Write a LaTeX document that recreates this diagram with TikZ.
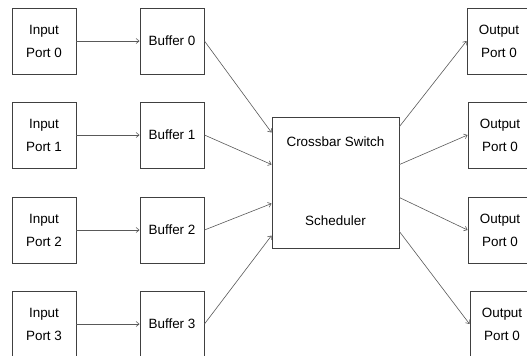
\documentclass[tikz,border=0pt]{standalone}
\usepackage{fontspec}
\setmainfont{Liberation Sans}
\usetikzlibrary{arrows.meta,calc}
\tikzset{
  box/.style={draw=black!75, line width=0.9bp, minimum width=64bp, minimum height=66bp,
              inner sep=0pt, align=center, font=\fontsize{13.5}{23}\selectfont},
  bigbox/.style={draw=black!75, line width=0.9bp, minimum width=127bp, minimum height=131bp, inner sep=0pt},
  lbl/.style={inner sep=0pt, font=\fontsize{13.5}{16}\selectfont},
  link/.style={draw=black!65, line width=0.6bp, -{Straight Barb[length=3bp,width=5bp]}}
}
\begin{document}
\begin{tikzpicture}[x=1bp, y=-1bp]
\useasboundingbox (0,0) rectangle (527,355);
\clip (0,0) rectangle (527,355);
% input ports
\node[box] (in0) at (44,41)  {Input\\Port 0};
\node[box] (in1) at (44,135) {Input\\Port 1};
\node[box] (in2) at (44,230) {Input\\Port 2};
\node[box] (in3) at (44,324) {Input\\Port 3};
% buffers
\node[box] (buf0) at (172,41)  {Buffer 0};
\node[box] (buf1) at (172,135) {Buffer 1};
\node[box] (buf2) at (172,230) {Buffer 2};
\node[box] (buf3) at (172,324) {Buffer 3};
% crossbar switch with scheduler
\node[bigbox] (xbar) at (335.5,182.5) {};
\node[lbl] (xsw) at (335.5,142) {Crossbar Switch};
\node[lbl] (xsch) at (335.5,221) {Scheduler};
% output ports
\node[box] (out0) at (499,41)  {Output\\Port 0};
\node[box] (out1) at (500,135) {Output\\Port 0};
\node[box] (out2) at (500,230) {Output\\Port 0};
\node[box] (out3) at (502,324) {Output\\Port 0};
% inputs to buffers
\foreach \i in {0,1,2,3} \draw[link] (in\i.east) -- (buf\i.west);
% buffers to crossbar
\draw[link] (buf0.east) -- ($(xbar.north west)+(0,16)$);
\draw[link] (buf1.east) -- ($(xbar.north west)+(0,48)$);
\draw[link] (buf2.east) -- ($(xbar.north west)+(0,87)$);
\draw[link] (buf3.east) -- ($(xbar.north west)+(0,119)$);
% crossbar to outputs
\draw[link] ($(xbar.north east)+(0,10)$) -- (out0.west);
\draw[link] ($(xbar.north east)+(0,48)$) -- (out1.west);
\draw[link] ($(xbar.north east)+(0,81)$) -- (out2.west);
\draw[link] ($(xbar.north east)+(0,115)$) -- (out3.west);
\end{tikzpicture}
\end{document}
